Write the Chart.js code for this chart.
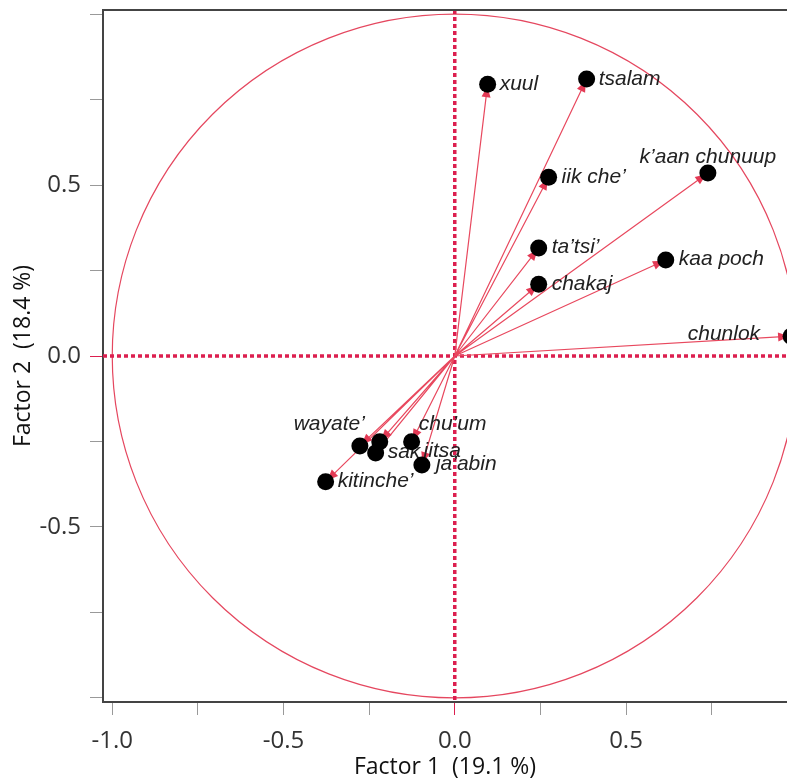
<!DOCTYPE html>
<html>
<head>
<meta charset="utf-8">
<script src="https://cdn.jsdelivr.net/npm/chart.js@4/dist/chart.umd.min.js"></script>
<style>
  html, body { margin: 0; padding: 0; background: #fff; overflow: hidden; }
  canvas { display: block; }
</style>
</head>
<body>
<canvas id="grafico" width="787" height="781"></canvas>
<script>
// cargas de cada variable en los dos factores
const nombres = ['xuul', 'tsalam', 'iik che’', 'k’aan chunuup', 'ta’tsi’', 'kaa poch', 'chakaj', 'chunlok',
                 'wayate’', 'sak', 'chu’um', 'iitsa', 'ja’abin', 'kitinche’'];
const factor1 = [0.096, 0.385, 0.274, 0.739, 0.245, 0.616, 0.245, 0.982,
                 -0.277, -0.231, -0.219, -0.126, -0.096, -0.377];
const factor2 = [0.795, 0.810, 0.523, 0.535, 0.316, 0.281, 0.210, 0.058,
                 -0.263, -0.284, -0.251, -0.251, -0.319, -0.368];

// marcas de los ejes
const xTicks = [-1, -0.75, -0.5, -0.25, 0, 0.25, 0.5, 0.75];
const xTickLabels = ['-1.0', '', '-0.5', '', '0.0', '', '0.5', ''];
const yTicks = [-1, -0.75, -0.5, -0.25, 0, 0.25, 0.5, 0.75, 1];
const yTickLabels = ['', '', '-0.5', '', '0.0', '', '0.5', '', ''];

// donde va cada etiqueta respecto a su punto: [dx, dy, alineacion]
const etiquetaPos = [
  [12, 0, 'left'], [12, 0, 'left'], [13, 0, 'left'], [0, -16, 'center'],
  [13, -1, 'left'], [13, -1, 'left'], [13, 0, 'left'], [-31, -2, 'right'],
  [5, -22, 'right'], [12, -1, 'left'], [39, -18, 'left'], [12, 9, 'left'],
  [14, -1, 'left'], [12, -1, 'left']
];

const ROJO = '#dc1f4f';

const puntos = nombres.map((n, i) => ({ x: factor1[i], y: factor2[i] }));
// flechas desde el origen, separadas con huecos
const flechas = [];
for (let i = 0; i < nombres.length; i++) {
  flechas.push({ x: 0, y: 0 }, { x: factor1[i], y: factor2[i] }, { x: 0, y: null });
}

const decoracion = {
  id: 'decoracion',
  beforeDatasetsDraw(chart) {
    const { ctx, chartArea: a, scales: { x, y } } = chart;
    const x0 = x.getPixelForValue(0), y0 = y.getPixelForValue(0);
    ctx.save();
    // circulo unidad
    ctx.strokeStyle = '#e5475f';
    ctx.lineWidth = 1.2;
    ctx.beginPath();
    ctx.ellipse(x0, y0, x.getPixelForValue(1) - x0, y0 - y.getPixelForValue(1), 0, 0, Math.PI * 2);
    ctx.stroke();
    // lineas del cero punteadas
    ctx.strokeStyle = ROJO;
    ctx.lineWidth = 3.5;
    ctx.setLineDash([4, 3]);
    ctx.beginPath();
    ctx.moveTo(x0, a.top); ctx.lineTo(x0, a.bottom);
    ctx.moveTo(a.left, y0); ctx.lineTo(a.right, y0);
    ctx.stroke();
    ctx.setLineDash([]);
    // borde de arriba
    ctx.strokeStyle = '#444';
    ctx.lineWidth = 2;
    ctx.beginPath();
    ctx.moveTo(a.left - 1, a.top); ctx.lineTo(a.right, a.top);
    ctx.stroke();
    ctx.restore();
  },
  afterDatasetDraw(chart, args) {
    if (args.index !== 1) return;
    const { ctx, scales: { x, y } } = chart;
    const x0 = x.getPixelForValue(0), y0 = y.getPixelForValue(0);
    ctx.save();
    // puntas de flecha
    ctx.fillStyle = '#e33a55';
    for (let i = 0; i < nombres.length; i++) {
      const px = x.getPixelForValue(factor1[i]), py = y.getPixelForValue(factor2[i]);
      const ang = Math.atan2(py - y0, px - x0);
      const tx = px - 2 * Math.cos(ang), ty = py - 2 * Math.sin(ang);
      ctx.beginPath();
      ctx.moveTo(tx, ty);
      ctx.lineTo(tx - 11 * Math.cos(ang) + 4.5 * Math.sin(ang), ty - 11 * Math.sin(ang) - 4.5 * Math.cos(ang));
      ctx.lineTo(tx - 11 * Math.cos(ang) - 4.5 * Math.sin(ang), ty - 11 * Math.sin(ang) + 4.5 * Math.cos(ang));
      ctx.closePath();
      ctx.fill();
    }
    // etiquetas
    ctx.font = 'italic 21px "Liberation Sans", Arial, sans-serif';
    ctx.fillStyle = '#222';
    ctx.textBaseline = 'middle';
    for (let i = 0; i < nombres.length; i++) {
      const px = x.getPixelForValue(factor1[i]), py = y.getPixelForValue(factor2[i]);
      const [dx, dy, al] = etiquetaPos[i];
      ctx.textAlign = al;
      ctx.fillText(nombres[i], px + dx, py + dy);
    }
    ctx.restore();
  }
};

function colorMarca(c) {
  if (c.tick && c.tick.value === 0) return ROJO;
  return '#999';
}

new Chart(document.getElementById('grafico'), {
  type: 'scatter',
  data: {
    datasets: [{
      data: puntos,
      order: 0,
      pointRadius: 8.5,
      pointBackgroundColor: '#000',
      pointBorderWidth: 0,
      clip: false
    }, {
      type: 'line',
      data: flechas,
      order: 1,
      showLine: true,
      spanGaps: false,
      pointRadius: 0,
      borderColor: '#e8485e',
      borderWidth: 1.2,
      clip: false
    }]
  },
  options: {
    responsive: false,
    animation: false,
    events: [],
    layout: { autoPadding: false, padding: { top: 10, right: 0, left: 0, bottom: 0 } },
    plugins: { legend: { display: false }, tooltip: { enabled: false } },
    scales: {
      x: {
        type: 'linear',
        min: -1.027,
        max: 0.97,
        afterBuildTicks: s => { s.ticks = xTicks.map(v => ({ value: v })); },
        afterFit: s => { s.height = 79; s.paddingLeft = 0; s.paddingRight = 0; },
        ticks: {
          autoSkip: false,
          maxRotation: 0,
          padding: 12,
          color: '#333',
          font: { family: '"Open Sans", sans-serif', size: 24 },
          callback: (v, i) => xTickLabels[i]
        },
        grid: { drawOnChartArea: false, drawTicks: true, tickLength: 13, tickColor: colorMarca },
        border: { display: true, color: '#444', width: 2 },
        title: {
          display: true,
          text: 'Factor 1  (19.1 %)',
          color: '#111',
          font: { family: '"Open Sans", sans-serif', size: 23 },
          padding: { top: 0, bottom: 0 }
        }
      },
      y: {
        type: 'linear',
        min: -1.012,
        max: 1.012,
        afterBuildTicks: s => { s.ticks = yTicks.map(v => ({ value: v })); },
        afterFit: s => { s.width = 103; s.paddingTop = 0; s.paddingBottom = 0; },
        ticks: {
          autoSkip: false,
          padding: 9,
          color: '#333',
          font: { family: '"Open Sans", sans-serif', size: 24 },
          callback: (v, i) => yTickLabels[i]
        },
        grid: { drawOnChartArea: false, drawTicks: true, tickLength: 13, tickColor: colorMarca },
        border: { display: true, color: '#444', width: 2 },
        title: {
          display: true,
          text: 'Factor 2  (18.4 %)',
          color: '#111',
          font: { family: '"Open Sans", sans-serif', size: 23 },
          padding: { top: 10, bottom: 0 }
        }
      }
    }
  },
  plugins: [decoracion]
});
</script>
</body>
</html>
